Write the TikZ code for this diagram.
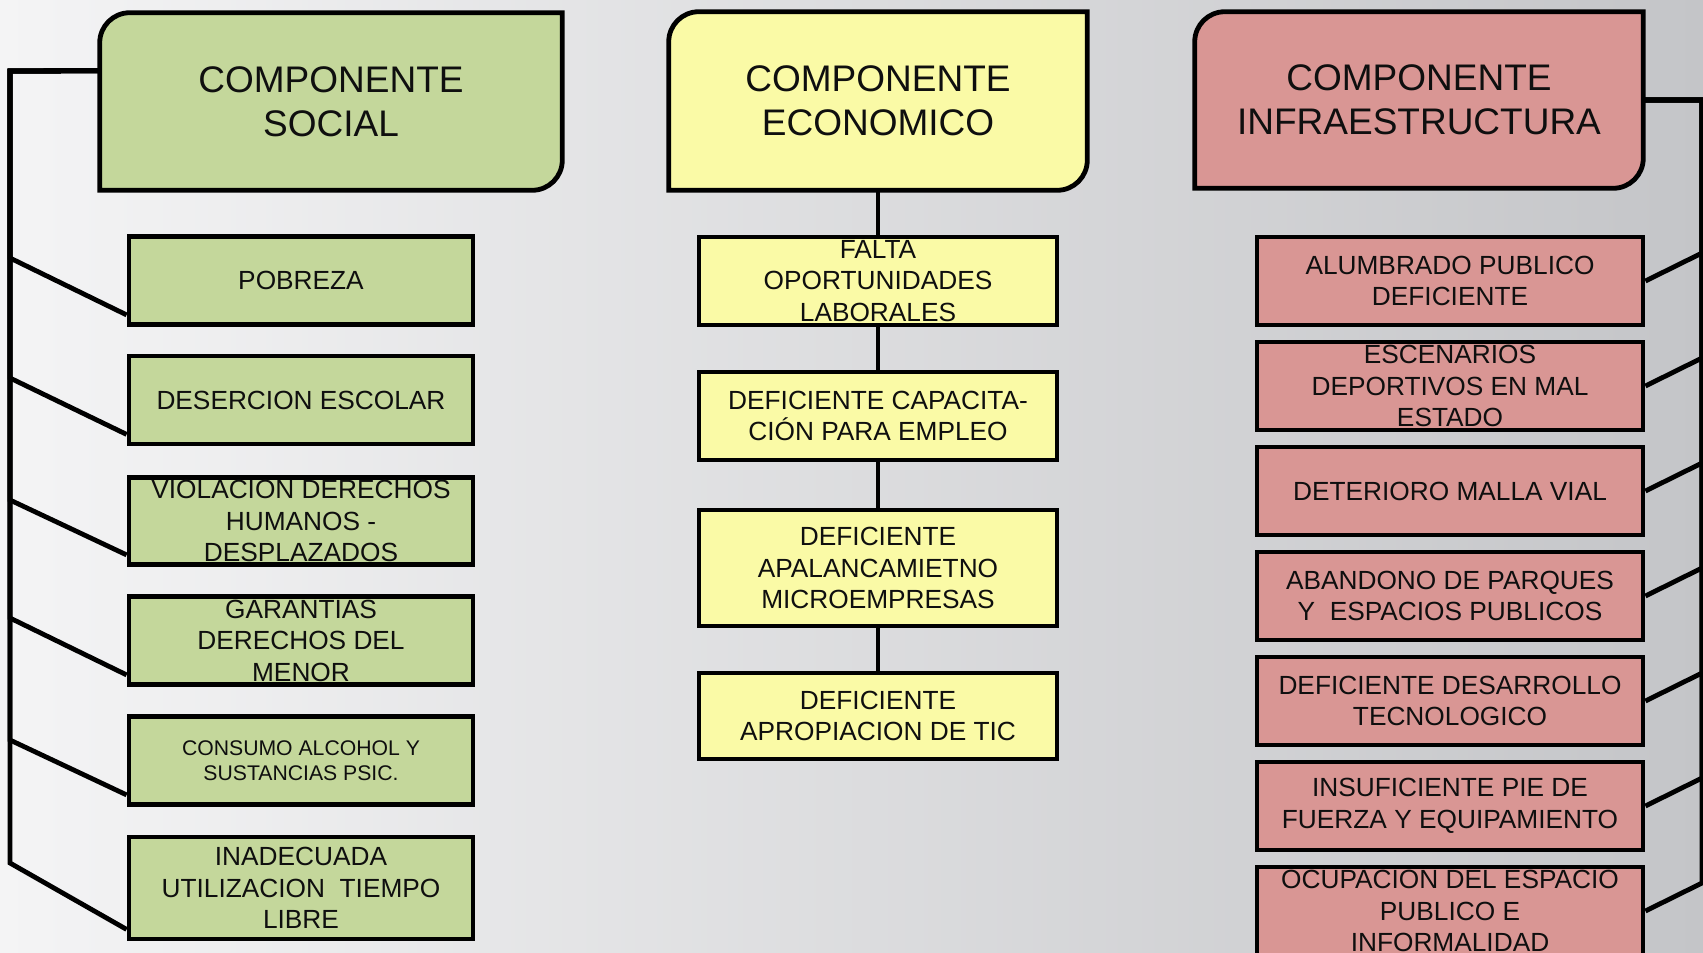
\documentclass[tikz,border=0pt]{standalone}
\usepackage{fontspec}
\setmainfont{Liberation Sans}
\usetikzlibrary{calc}
\definecolor{gfill}{RGB}{196,215,155}
\definecolor{yfill}{RGB}{250,250,166}
\definecolor{rfill}{RGB}{217,150,148}
\definecolor{bgl}{RGB}{244,244,245}
\definecolor{bgr}{RGB}{196,197,200}
\definecolor{txt}{RGB}{15,15,15}
\begin{document}
\begin{tikzpicture}[x=0.75pt,y=-0.75pt,
  lw/.style={line width=3.6pt},
  hdrbox/.style 2 args={draw=none, inner sep=0pt, minimum width=#1*0.75pt, minimum height=#2*0.75pt},
  hdrshape/.style={lw, draw=black},
  hdrtext/.style={inner sep=0pt, align=center, text=txt, font=\fontsize{27.75}{32.8}\selectfont},
  itm/.style 2 args={draw=black, lw, inner sep=0pt, align=center, text=txt,
     minimum width=#1*0.75pt, minimum height=#2*0.75pt, font=\fontsize{19.7}{23.6}\selectfont},
  small/.style={font=\fontsize{15.9}{18.8}\selectfont},
  conn/.style={lw, draw=black}
]
\useasboundingbox (0,0) rectangle (1703,953);
\clip (0,0) rectangle (1703,953);
\shade[left color=bgl, right color=bgr] (0,0) rectangle (1703,953);

% ---------- headers ----------
\node[hdrbox={462}{177}] (hs) at (331,101.5) {};
\draw[hdrshape, fill=gfill] (hs.south west) -- ($(hs.north west)+(0,30)$)
  arc[start angle=180, end angle=270, radius=30] -- (hs.north east)
  -- ($(hs.south east)+(0,-30)$) arc[start angle=0, end angle=90, radius=30] -- cycle;
\node[hdrtext] (hst) at (hs.center) {COMPONENTE\\SOCIAL};

\node[hdrbox={418}{178}] (eh) at (878,101) {};
\draw[hdrshape, fill=yfill] (eh.south west) -- ($(eh.north west)+(0,30)$)
  arc[start angle=180, end angle=270, radius=30] -- (eh.north east)
  -- ($(eh.south east)+(0,-30)$) arc[start angle=0, end angle=90, radius=30] -- cycle;
\node[hdrtext] (eht) at (eh.center) {COMPONENTE\\ECONOMICO};

\node[hdrbox={448}{176}] (ih) at (1419,100) {};
\draw[hdrshape, fill=rfill] (ih.south west) -- ($(ih.north west)+(0,30)$)
  arc[start angle=180, end angle=270, radius=30] -- (ih.north east)
  -- ($(ih.south east)+(0,-30)$) arc[start angle=0, end angle=90, radius=30] -- cycle;
\node[hdrtext] (iht) at (ih.center) {COMPONENTE\\INFRAESTRUCTURA};

% ---------- social boxes ----------
\node[itm={344}{88}, fill=gfill] (s1) at (301,280.5) {POBREZA};
\node[itm={344}{88}, fill=gfill] (s2) at (301,400) {DESERCION ESCOLAR};
\node[itm={344}{87}, fill=gfill] (s3) at (301,521) {VIOLACION DERECHOS\\HUMANOS -\\DESPLAZADOS};
\node[itm={344}{88}, fill=gfill] (s4) at (301,640.5) {GARANTIAS\\DERECHOS DEL\\MENOR};
\node[itm={344}{88}, fill=gfill, small] (s5) at (301,760.5) {CONSUMO ALCOHOL Y\\SUSTANCIAS PSIC.};
\node[itm={344}{102}, fill=gfill] (s6) at (301,888) {INADECUADA\\UTILIZACION~~TIEMPO\\LIBRE};

% ---------- economic boxes ----------
\node[itm={358}{88}, fill=yfill] (e1) at (878,281) {FALTA\\OPORTUNIDADES\\LABORALES};
\node[itm={358}{88}, fill=yfill] (e2) at (878,416) {DEFICIENTE CAPACITA-\\CIÓN PARA EMPLEO};
\node[itm={358}{116}, fill=yfill] (e3) at (878,568) {DEFICIENTE\\APALANCAMIETNO\\MICROEMPRESAS};
\node[itm={358}{86}, fill=yfill] (e4) at (878,716) {DEFICIENTE\\APROPIACION DE TIC};

% ---------- infrastructure boxes ----------
\node[itm={386}{88}, fill=rfill] (r1) at (1450,281) {ALUMBRADO PUBLICO\\DEFICIENTE};
\node[itm={386}{88}, fill=rfill] (r2) at (1450,386) {ESCENARIOS\\DEPORTIVOS EN MAL\\ESTADO};
\node[itm={386}{88}, fill=rfill] (r3) at (1450,491) {DETERIORO MALLA VIAL};
\node[itm={386}{88}, fill=rfill] (r4) at (1450,596) {ABANDONO DE PARQUES\\Y~~ESPACIOS PUBLICOS};
\node[itm={386}{88}, fill=rfill] (r5) at (1450,701) {DEFICIENTE DESARROLLO\\TECNOLOGICO};
\node[itm={386}{88}, fill=rfill] (r6) at (1450,806) {INSUFICIENTE PIE DE\\FUERZA Y EQUIPAMIENTO};
\node[itm={386}{88}, fill=rfill] (r7) at (1450,911) {OCUPACION DEL ESPACIO\\PUBLICO E\\INFORMALIDAD};

% ---------- economic connectors ----------
\draw[conn] (eh.south) -- (e1.north);
\draw[conn] (e1.south) -- (e2.north);
\draw[conn] (e2.south) -- (e3.north);
\draw[conn] (e3.south) -- (e4.north);

% ---------- social connectors ----------
\coordinate (lt) at (10,71);
\coordinate (l1) at (10,258);
\coordinate (l2) at (10,378);
\coordinate (l3) at (10,500);
\coordinate (l4) at (10,618);
\coordinate (l5) at (10,740);
\coordinate (l6) at (10,863);
\foreach \i in {1,...,6}{
  \draw[conn] ($(hs.north west)+(0,58)$) -- (lt) -- (l\i) -- ($(s\i.south west)+(0,-12)$);
}

% ---------- infrastructure connectors ----------
\coordinate (rt) at (1702,100);
\foreach \i/\y in {1/253,2/358,3/463,4/568,5/673,6/778,7/883}{
  \coordinate (rr\i) at (1702,\y);
  \draw[conn] (ih.east) -- (rt) -- (rr\i) -- (r\i.east);
}
\end{tikzpicture}
\end{document}
